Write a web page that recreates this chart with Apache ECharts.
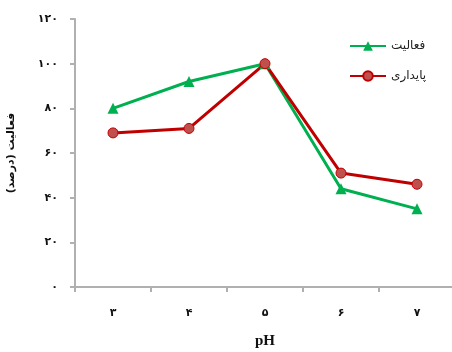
<!DOCTYPE html>
<html>
<head>
<meta charset="utf-8">
<script src="https://cdn.jsdelivr.net/npm/echarts@6/dist/echarts.min.js"></script>
<style>
  html, body { margin: 0; padding: 0; background: #fff; }
  #chart { width: 452px; height: 352px; }
</style>
</head>
<body>
<div id="chart"></div>
<script>
// pH values (Persian digits)
const categories = ["۳", "۴", "۵", "۶", "۷"];
const activity = [80, 92, 100, 44, 35];    // فعالیت
const stability = [69, 71, 100, 51, 46];   // پایداری
const yLabels = { 0: "۰", 20: "۲۰", 40: "۴۰", 60: "۶۰", 80: "۸۰", 100: "۱۰۰", 120: "۱۲۰" };

const chart = echarts.init(document.getElementById("chart"));
const axisColor = "#b0b0b0";

chart.setOption({
  animation: false,
  grid: { left: 75, top: 19, width: 380, height: 268, outerBoundsMode: "none" },
  legend: {
    orient: "vertical",
    left: 344,
    top: 35,
    itemWidth: 36,
    itemHeight: 12,
    itemGap: 18,
    textStyle: { fontFamily: "DejaVu Sans", fontSize: 12, color: "#222" },
    data: ["فعالیت", "پایداری"]
  },
  xAxis: {
    type: "category",
    data: categories,
    boundaryGap: true,
    name: "pH",
    nameLocation: "middle",
    nameGap: 47,
    nameTextStyle: { fontFamily: "Liberation Serif", fontWeight: "bold", fontSize: 15, color: "#111" },
    axisLine: { lineStyle: { color: axisColor, width: 2 } },
    axisTick: { show: true, length: 5, lineStyle: { color: axisColor, width: 2 } },
    axisLabel: { margin: 21, fontFamily: "DejaVu Sans", fontWeight: "bold", fontSize: 11, color: "#111" }
  },
  yAxis: {
    type: "value",
    min: 0,
    max: 120,
    interval: 20,
    name: "فعالیت (درصد)",
    nameLocation: "middle",
    nameGap: 58,
    nameTextStyle: { fontFamily: "DejaVu Sans", fontWeight: "bold", fontSize: 11, color: "#111" },
    splitLine: { show: false },
    axisLine: { show: true, lineStyle: { color: axisColor, width: 2 } },
    axisTick: { show: true, length: 5, lineStyle: { color: axisColor, width: 2 } },
    axisLabel: {
      margin: 17,
      fontFamily: "DejaVu Sans",
      fontWeight: "bold",
      fontSize: 11,
      color: "#111",
      formatter: v => yLabels[v]
    }
  },
  series: [
    {
      name: "فعالیت",
      type: "line",
      data: activity,
      symbol: "triangle",
      symbolSize: 11,
      lineStyle: { color: "#00b050", width: 3 },
      itemStyle: { color: "#00b050" }
    },
    {
      name: "پایداری",
      type: "line",
      data: stability,
      symbol: "circle",
      symbolSize: 10,
      lineStyle: { color: "#c00000", width: 3 },
      itemStyle: { color: "#c0504d", borderColor: "#c00000", borderWidth: 1 }
    }
  ]
});
</script>
</body>
</html>
